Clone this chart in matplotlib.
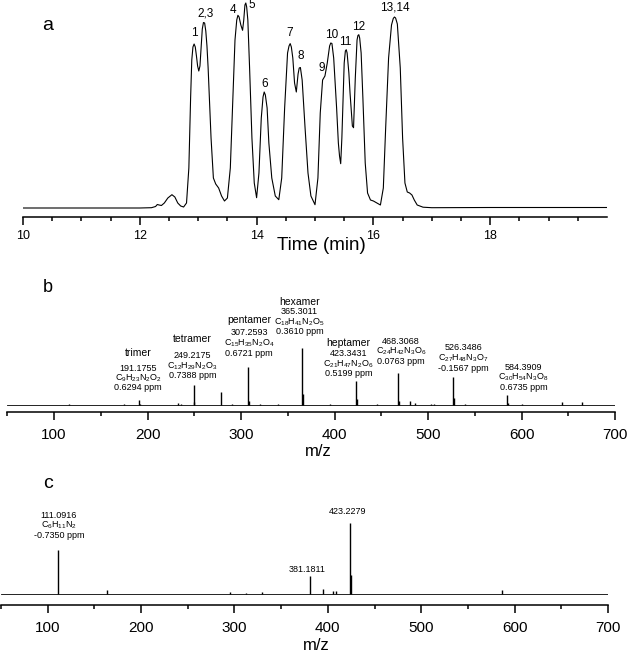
import matplotlib
matplotlib.use('Agg')
import matplotlib.pyplot as plt
from matplotlib.ticker import MultipleLocator, FixedLocator
from matplotlib.transforms import blended_transform_factory

plt.rcParams['font.family'] = ['Liberation Sans', 'DejaVu Sans']
plt.rcParams['mathtext.fontset'] = 'custom'
plt.rcParams['mathtext.rm'] = 'Liberation Sans'
plt.rcParams['mathtext.it'] = 'Liberation Sans:italic'

# ─────────────────────────────────────────
# DATA
# ─────────────────────────────────────────
# (a) chromatogram trace (arbitrary intensity)
time_min = [10.0, 12.0, 12.2, 12.27, 12.3, 12.33, 12.37, 12.42, 12.48, 12.55,
            12.6, 12.65, 12.7, 12.75, 12.8, 12.84, 12.87, 12.89, 12.91, 12.93,
            12.95, 12.97, 12.99, 13.01, 13.03, 13.05, 13.07, 13.09, 13.11, 13.13,
            13.15, 13.17, 13.22, 13.26, 13.3, 13.35, 13.4, 13.45, 13.5, 13.55,
            13.6, 13.63, 13.66, 13.68, 13.7, 13.73, 13.76, 13.78, 13.8, 13.815,
            13.83, 13.85, 13.88, 13.92, 13.96, 14.0, 14.04, 14.08, 14.11, 14.13,
            14.15, 14.18, 14.21, 14.26, 14.32, 14.38, 14.43, 14.48, 14.53, 14.555,
            14.575, 14.595, 14.62, 14.65, 14.68, 14.71, 14.73, 14.75, 14.78, 14.83,
            14.88, 14.93, 15.0, 15.05, 15.09, 15.13, 15.17, 15.21, 15.25, 15.27,
            15.29, 15.32, 15.37, 15.4, 15.42, 15.44, 15.46, 15.5, 15.52, 15.535,
            15.55, 15.58, 15.6, 15.64, 15.66, 15.69, 15.72, 15.735, 15.75, 15.765,
            15.79, 15.82, 15.86, 15.9, 15.95, 16.0, 16.06, 16.12, 16.17, 16.21,
            16.26, 16.31, 16.34, 16.36, 16.38, 16.41, 16.46, 16.5, 16.54, 16.58,
            16.62, 16.66, 16.7, 16.75, 16.85, 17.0, 18.0, 19.0, 20.0]
signal = [0, 0, 0.3, 1.5, 3.5, 3, 2.5, 5, 10, 13.3,
          11, 5, 2, 1, 5, 40, 110, 148, 161, 164,
          161, 152, 142, 137, 142, 160, 179, 185.5, 185, 177,
          162, 140, 70, 30, 24, 20, 12, 7, 10, 40,
          120, 168, 188, 192.7, 191, 183, 177.7, 188, 203, 205,
          201, 188, 140, 70, 25, 10.3, 35, 90, 111, 116,
          113, 100, 65, 30, 12, 8.3, 30, 100, 155, 162,
          164.4, 161, 150, 125, 116, 134, 140, 140.5, 128, 80,
          35, 12, 3.3, 30, 95, 128, 132, 145, 162, 165,
          164.5, 150, 100, 65, 52, 44.3, 70, 145, 157, 158.3,
          155, 135, 115, 82, 80.3, 130, 168, 172.5, 173.3, 170,
          155, 110, 45, 15, 8, 7, 5, 3, 20, 80,
          150, 183, 189.5, 191, 190, 184, 140, 70, 25, 16,
          15, 13, 8, 3, 0.8, 0.3, 0.5, 0.5, 0.5]

peak_names = ['1', '2,3', '4', '5', '6', '7', '8', '9', '10', '11', '12', '13,14']
peak_times = [12.93, 13.12, 13.6, 13.92, 14.14, 14.57, 14.76, 15.12, 15.29, 15.51, 15.75, 16.37]

# (b) full MS spectrum (relative intensity, 365 = 100)
ms1_mz = [116, 175, 191.1755, 192.2, 233, 236, 249.2175, 250.2, 278.2, 290,
          307.2593, 308.3, 320, 340, 365.3011, 366.3, 395, 423.3431, 424.3, 445,
          468.3068, 469.3, 481, 486, 503, 506, 526.3486, 527.3, 540, 584.3909,
          585.4, 600, 643, 665]
ms1_int = [2, 2.5, 8.8, 2, 3, 2, 35.6, 5, 22.8, 1.5,
           67.2, 7, 1, 1, 100, 19, 1.5, 42.6, 10, 1,
           55.6, 7, 7, 4, 1.5, 1.5, 48.6, 12, 2, 17.5,
           3, 1, 5.3, 5.3]

oligomers = ['trimer', 'tetramer', 'pentamer', 'hexamer', 'heptamer', '', '', '']
ms1_masses = ['191.1755', '249.2175', '307.2593', '365.3011', '423.3431',
              '468.3068', '526.3486', '584.3909']
ms1_formulas = [r'C$_9$H$_{23}$N$_2$O$_2$', r'C$_{12}$H$_{29}$N$_2$O$_3$',
                r'C$_{15}$H$_{35}$N$_2$O$_4$', r'C$_{18}$H$_{41}$N$_2$O$_5$',
                r'C$_{21}$H$_{47}$N$_2$O$_6$', r'C$_{24}$H$_{42}$N$_3$O$_6$',
                r'C$_{27}$H$_{48}$N$_3$O$_7$', r'C$_{30}$H$_{54}$N$_3$O$_8$']
ms1_ppm = ['0.6294', '0.7388', '0.6721', '0.3610', '0.5199', '0.0763', '-0.1567', '0.6735']

# (c) MS/MS spectrum (relative intensity, 423 = 100)
ms2_mz = [111.0916, 163, 295, 312, 330, 381.1811, 395, 405, 409, 423.2279, 424.3, 586]
ms2_int = [62.5, 6, 2.5, 1.5, 3.5, 25.4, 6.6, 4.7, 4.2, 100, 27, 6]

# ─────────────────────────────────────────
# LAYOUT (figure pixels)
# ─────────────────────────────────────────
W, H = 628, 656
fig = plt.figure(figsize=(W / 100, H / 100), dpi=100)


def box(left, right, top, bottom):
    return [left / W, 1 - bottom / H, (right - left) / W, (bottom - top) / H]


def fy(px):
    return 1 - px / H


def style(ax, fs, pad):
    for s in ['left', 'right', 'top']:
        ax.spines[s].set_visible(False)
    ax.spines['bottom'].set_linewidth(1.1)
    ax.tick_params(axis='y', left=False, labelleft=False)
    ax.tick_params(axis='x', which='major', direction='out', length=5.8,
                   width=1.1, labelsize=fs, pad=pad)
    ax.tick_params(axis='x', which='minor', direction='out', length=2.9, width=1.1)
    ax.patch.set_visible(False)


# ── panel a ──
ax_a = fig.add_axes(box(23, 607, 0, 217))
ax_a.plot(time_min, signal, color='black', lw=0.8)
ax_a.set_xlim(10, 20)
ax_a.set_ylim(-9, 208)
ax_a.xaxis.set_major_locator(FixedLocator([10, 12, 14, 16, 18]))
ax_a.xaxis.set_minor_locator(FixedLocator([10 + 0.5 * i for i in range(1, 20)]))
style(ax_a, 9, 3.5)
ax_a.set_xlabel('Time (min)', fontsize=13.5)
ax_a.xaxis.set_label_coords((321 - 23) / (607 - 23), -(246 - 217) / 217)
ax_a.xaxis.label.set_va('center')

tr_a = blended_transform_factory(ax_a.transData, fig.transFigure)
label_y = [33, 13, 10, 5, 84, 33, 56, 68, 35, 42, 27, 7]
for name, t, y in zip(peak_names, peak_times, label_y):
    ax_a.text(t, fy(y), name, transform=tr_a, ha='center', va='center',
              fontsize=8.5, clip_on=False)
fig.text(48 / W, fy(25), 'a', fontsize=14, ha='center', va='center')

# ── panel b ──
ax_b = fig.add_axes(box(7.25, 615, 285, 412))
ax_b.axhline(0, color='black', lw=0.6)
ax_b.vlines(ms1_mz, 0, ms1_int, color='black', lw=1.0)
ax_b.set_xlim(50, 700)
ax_b.set_ylim(-12.3, 210.5)
ax_b.xaxis.set_major_locator(MultipleLocator(100))
ax_b.xaxis.set_minor_locator(MultipleLocator(50))
style(ax_b, 11, 6)
ax_b.set_xlabel('m/z', fontsize=12)
ax_b.xaxis.set_label_coords((318 - 7.25) / (615 - 7.25), -(452 - 412) / 127)
ax_b.xaxis.label.set_va('center')

tr_b = blended_transform_factory(ax_b.transData, fig.transFigure)
ann_x = [190, 248, 308.5, 362.5, 415, 471, 538, 602]
ann_name_y = [353, 339, 320, 302, 343, 0, 0, 0]
ann_line_y = [368, 356, 333, 312, 354, 341, 348, 367]
for i in range(len(ms1_masses)):
    x = ann_x[i]
    if oligomers[i]:
        ax_b.text(x, fy(ann_name_y[i]), oligomers[i], transform=tr_b,
                  ha='center', va='center', fontsize=7.5)
    y0 = ann_line_y[i]
    for k, line in enumerate([ms1_masses[i], ms1_formulas[i], ms1_ppm[i] + ' ppm']):
        ax_b.text(x, fy(y0 + 10 * k), line, transform=tr_b,
                  ha='center', va='center', fontsize=6.5)
fig.text(48 / W, fy(287), 'b', fontsize=13, ha='center', va='center')

# ── panel c ──
ax_c = fig.add_axes(box(1, 608, 480, 605))
ax_c.axhline(0, color='black', lw=0.6)
ax_c.vlines(ms2_mz, 0, ms2_int, color='black', lw=1.0)
ax_c.set_xlim(50, 700)
ax_c.set_ylim(-15.5, 160.6)
ax_c.xaxis.set_major_locator(MultipleLocator(100))
ax_c.xaxis.set_minor_locator(MultipleLocator(50))
style(ax_c, 11, 6)
ax_c.set_xlabel('m/z', fontsize=12)
ax_c.xaxis.set_label_coords((316 - 1) / (608 - 1), -(646 - 605) / 125)
ax_c.xaxis.label.set_va('center')

tr_c = blended_transform_factory(ax_c.transData, fig.transFigure)
for k, line in enumerate(['111.0916', r'C$_6$H$_{11}$N$_2$', '-0.7350 ppm']):
    ax_c.text(112, fy(515 + 10.5 * k), line, transform=tr_c,
              ha='center', va='center', fontsize=6.5)
ax_c.text(421, fy(512), '423.2279', transform=tr_c, ha='center', va='center', fontsize=6.5)
ax_c.text(378, fy(569), '381.1811', transform=tr_c, ha='center', va='center', fontsize=6.5)
fig.text(48 / W, fy(483), 'c', fontsize=14, ha='center', va='center')

fig.savefig('out.png', dpi=100)
